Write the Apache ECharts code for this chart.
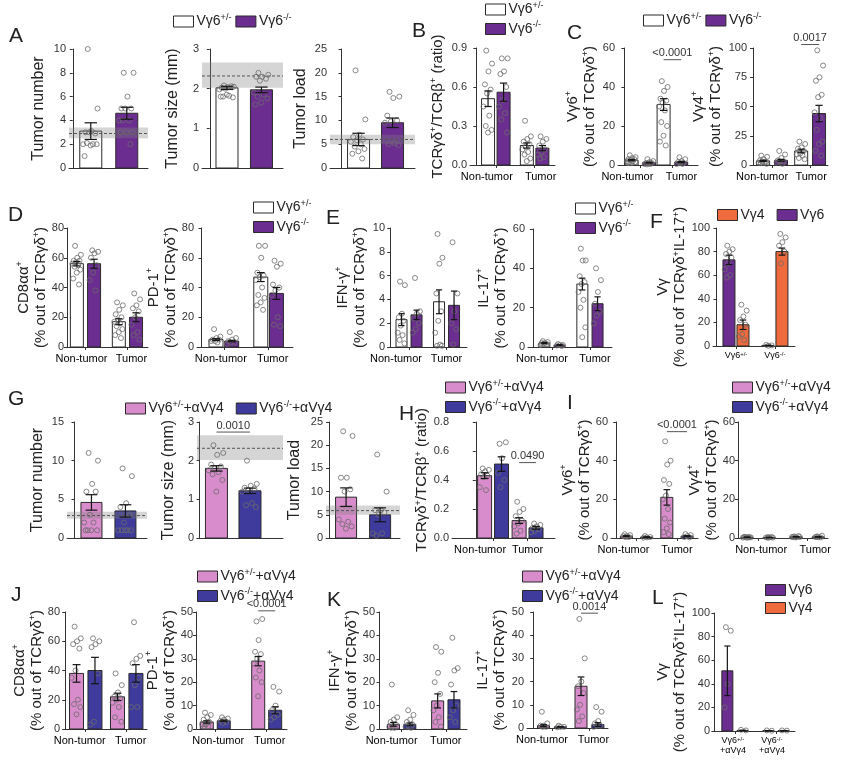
<!DOCTYPE html>
<html><head><meta charset="utf-8">
<script src="https://cdn.jsdelivr.net/npm/echarts@6/dist/echarts.min.js"></script>
<style>html,body{margin:0;padding:0;background:#fff}#c{width:843px;height:763px}</style>
</head><body><div id="c"></div>
<script>
// ---------------- DATA ----------------
const NT_T = ['Non-tumor', 'Tumor'];
const F_cats = ['{c|Vγ6}{cs|+/-}', '{c|Vγ6}{cs|-/-}'];
const L_cats = ['{c|Vγ6}{cs|+/-}\n{c|+αVγ4}', '{c|Vγ6}{cs|-/-}\n{c|+αVγ4}'];

const A1_y = [0, 10, 2];
const A1_means = [3.1, 4.6];
const A1_sems = [0.7, 0.5];
const A1_pts = [[10, 5, 3.1, 3, 2.9, 3, 2, 2, 2.1, 2, 1.9, 1], [8, 8, 6, 5, 5, 5, 4, 4, 4, 3, 3, 3, 2]];
const A1_band = [2.5, 3.4, 2.9];

const A2_y = [0, 3, 1];
const A2_means = [2.02, 1.97];
const A2_sems = [0.04, 0.07];
const A2_pts = [[2.08, 2.05, 2.04, 2.02, 2.06, 2.0, 1.98, 1.82, 1.8, 1.78, 1.85, 1.8], [2.4, 2.35, 2.3, 2.3, 2.25, 2.2, 1.9, 1.85, 1.8, 1.75, 1.65, 1.6]];
const A2_band = [2.02, 2.66, 2.32];

const A3_y = [0, 25, 5];
const A3_means = [6.0, 9.5];
const A3_sems = [1.3, 1.0];
const A3_pts = [[20.5, 10.2, 7, 6.5, 6, 5.8, 5.5, 5, 4.5, 4, 3.5, 3, 2], [16, 15, 14.7, 11, 10, 9.8, 9.5, 5.2, 5, 4.8]];
const A3_band = [5, 7, 6];

const B_y = [0, 0.9, 0.3];
const B_means = [0.51, 0.56, 0.15, 0.13];
const B_sems = [0.06, 0.07, 0.02, 0.02];
const B_pts = [[0.88, 0.78, 0.72, 0.62, 0.58, 0.55, 0.45, 0.38, 0.3, 0.27, 0.25], [0.82, 0.82, 0.72, 0.7, 0.6, 0.5, 0.45, 0.4, 0.35, 0.25], [0.34, 0.22, 0.2, 0.18, 0.16, 0.14, 0.12, 0.1, 0.08, 0.05, 0.03], [0.22, 0.2, 0.18, 0.15, 0.12, 0.1, 0.08, 0.06, 0.05]];

const C1_y = [0, 60, 20];
const C1_means = [2.5, 1.2, 31, 1.5];
const C1_sems = [0.3, 0.2, 3, 0.3];
const C1_pts = [[5, 4, 3.5, 3, 3, 2.5, 2, 2, 1.5, 1.5, 1, 1], [3, 2, 1.5, 1, 1, 0.8, 0.5, 0.5, 0.3], [43, 40, 38, 34, 33, 32, 30, 28, 22, 20, 15, 12, 10], [4, 3, 2, 1.5, 1, 1, 0.5, 0.5]];
const C1_pval = [2, 3, 54, '<0.0001'];

const C2_y = [0, 100, 25];
const C2_means = [3.5, 4, 12, 44];
const C2_sems = [0.5, 0.8, 1.5, 7];
const C2_pts = [[8, 7, 5, 4, 3, 3, 2, 2, 1.5, 1], [12, 9, 6, 4, 3, 3, 2, 1], [20, 18, 15, 14, 12, 10, 9, 8, 6, 5], [98, 85, 75, 72, 60, 58, 45, 40, 30, 20, 18, 12, 8]];
const C2_pval = [2, 3, 103, '0.0017'];

const D1_y = [0, 80, 20];
const D1_means = [56, 56, 17, 20];
const D1_sems = [1.5, 3, 2, 3];
const D1_pts = [[68, 62, 60, 58, 58, 57, 56, 55, 54, 52, 50, 46, 42], [65, 64, 63, 60, 55, 50, 45, 38], [30, 28, 25, 22, 20, 18, 17, 16, 14, 12, 10, 8, 6], [36, 32, 28, 26, 24, 20, 15, 10, 8, 5]];

const D2_y = [0, 80, 20];
const D2_means = [5, 4, 47, 36];
const D2_sems = [0.6, 0.5, 3, 4];
const D2_pts = [[12, 7, 6, 5, 5, 4, 4, 3], [10, 6, 5, 4, 3, 3, 2], [68, 68, 60, 50, 48, 47, 45, 40, 35, 33, 30, 28, 25], [58, 56, 54, 42, 40, 38, 35, 20, 15, 14]];

const E1_y = [0, 10, 2];
const E1_means = [2.3, 2.7, 3.8, 3.5];
const E1_sems = [0.5, 0.4, 1.0, 1.2];
const E1_pts = [[5.5, 5.2, 2.8, 2.5, 2.2, 1.8, 1.2, 1.0, 0.6, 0.3], [5.8, 3.0, 2.8, 2.4, 2.0, 1.5, 1.2], [9.5, 7.5, 7.0, 4.5, 3.0, 2.2, 1.2, 0.2, 0.1, 0.1], [8.8, 4.5, 3.0, 2.0, 1.5, 0.2]];

const E2_y = [0, 60, 20];
const E2_means = [2, 1, 32, 22];
const E2_sems = [0.3, 0.2, 3, 3.5];
const E2_pts = [[3, 2.5, 2, 2, 1.5, 1.5, 1], [1.5, 1, 1, 0.8, 0.5], [50, 44, 44, 36, 33, 32, 28, 24, 20, 10, 5], [40, 34, 28, 22, 18, 16, 12]];

const F_y = [0, 100, 20];
const F_means = [73, 18, 0.5, 80];
const F_sems = [4, 4, 0.2, 3];
const F_pts = [[85, 82, 80, 78, 75, 70, 65, 60, 58], [35, 30, 25, 22, 18, 10, 8, 5], [1, 0.5, 0.2], [95, 92, 88, 85, 80, 70]];

const G1_y = [0, 15, 5];
const G1_means = [4.6, 3.5];
const G1_sems = [1.0, 0.8];
const G1_pts = [[11, 10, 7, 6, 6, 3, 2, 2, 1, 1, 1, 1], [9, 8, 4.5, 4, 3, 2, 1, 1, 1, 1, 1]];
const G1_band = [2.5, 3.4, 2.9];

const G2_y = [0, 3, 1];
const G2_means = [1.8, 1.22];
const G2_sems = [0.07, 0.07];
const G2_pts = [[2.4, 2.2, 2.15, 1.9, 1.85, 1.8, 1.75, 1.7, 1.65, 1.5, 1.2], [2.0, 1.4, 1.35, 1.3, 1.28, 1.25, 1.2, 0.9, 0.85, 0.8]];
const G2_band = [2.02, 2.66, 2.32];
const G2_pval = [0, 1, 2.74, '0.0010'];

const G3_y = [0, 25, 5];
const G3_means = [8.8, 5];
const G3_sems = [2, 1.5];
const G3_pts = [[23, 22, 13, 13, 10.5, 10, 4, 3.5, 3, 2.5, 2], [18, 10, 6, 6, 5.5, 5, 1, 1, 0.5]];
const G3_band = [5, 7, 5.9];

const H_y = [0, 0.8, 0.2];
const H_means = [0.43, 0.51, 0.12, 0.07];
const H_sems = [0.02, 0.05, 0.02, 0.01];
const H_pts = [[0.48, 0.47, 0.46, 0.44, 0.43, 0.42, 0.35, 0.33], [0.65, 0.66, 0.55, 0.45, 0.4, 0.35], [0.25, 0.2, 0.18, 0.15, 0.12, 0.1, 0.08, 0.05, 0.03], [0.1, 0.09, 0.08, 0.07, 0.06, 0.05, 0.04]];
const H_pval = [2, 3, 0.52, '0.0490'];

const I1_y = [0, 60, 20];
const I1_means = [1, 0.5, 21, 1];
const I1_sems = [0.2, 0.1, 4, 0.2];
const I1_pts = [[2, 1.5, 1, 1, 0.5, 0.5], [1, 0.5, 0.3, 0.2], [50, 40, 38, 30, 28, 22, 20, 15, 10, 8, 5, 3, 2], [2, 1.5, 1, 0.5, 0.3]];
const I1_pval = [2, 3, 55, '<0.0001'];

const I2_y = [0, 60, 20];
const I2_means = [0.4, 0.3, 0.6, 0.6];
const I2_sems = [0.1, 0.05, 0.1, 0.15];
const I2_pts = [[0.5, 0.3, 0.2, 0.6, 0.4, 0.3, 0.2, 0.5], [0.3, 0.2, 0.4, 0.3, 0.5, 0.2], [0.8, 0.5, 0.4, 0.6, 1.0, 0.3, 0.5], [0.6, 1.2, 0.4, 0.5, 0.3, 0.8]];

const J1_y = [0, 80, 20];
const J1_means = [38, 40, 22, 38];
const J1_sems = [6, 9, 2.5, 6];
const J1_pts = [[70, 62, 60, 58, 55, 40, 35, 20, 17, 15, 10], [62, 60, 58, 56, 38, 5, 3], [38, 30, 25, 22, 21, 20, 18, 15, 8, 5], [73, 50, 48, 45, 35, 30, 15, 15]];

const J2_y = [0, 50, 10];
const J2_means = [3, 3.5, 29, 8];
const J2_sems = [0.5, 0.3, 2, 1.5];
const J2_pts = [[7, 6, 5, 4, 3, 2, 2, 1, 1], [5, 4.5, 4, 3.5, 3, 2.5], [46, 47, 38, 33, 32, 30, 28, 25, 22, 20, 14], [18, 16, 10, 8, 6, 5, 4]];
const J2_pval = [2, 3, 50.5, '<0.0001'];

const K1_y = [0, 50, 10];
const K1_means = [2, 2, 12, 12.5];
const K1_sems = [0.8, 0.6, 3, 3.5];
const K1_pts = [[19, 5, 4, 3, 2, 1, 1, 0.5, 0.5], [8, 6, 4, 3, 2, 1, 1, 0.5], [35, 33, 24, 20, 15, 10, 8, 5, 3, 1], [39, 26, 25, 19, 10, 8, 5, 3]];

const K2_y = [0, 50, 10];
const K2_means = [1, 0.5, 18, 1.5];
const K2_sems = [0.4, 0.1, 4, 0.8];
const K2_pts = [[7, 2, 1, 1, 0.5, 0.5], [1, 0.5, 0.5, 0.3], [47, 30, 20, 18, 15, 10, 8, 5, 3], [9, 7, 3, 2, 1, 1, 0.5]];
const K2_pval = [2, 3, 49.5, '0.0014'];

const L_y = [0, 100, 20];
const L_means = [51, 0.5, 0.3, 0.3];
const L_sems = [21, 0.2, 0.1, 0.1];
const L_pts = [[88, 85, 40, 20], [1, 0.5], [0.5, 0.2], [0.5, 0.3]];

// ---------------- STYLE / LAYOUT ----------------
const FONT = "'Liberation Sans', Arial, Helvetica, sans-serif";
const COL = {het: '#ffffff', ko: '#6b2d90', hetA: '#d98ccb', koA: '#3e3b9c', g4: '#ef6a3c', g6: '#6b2d90'};
const LEG = {
  het: '{t|Vγ6}{s|+/-}', ko: '{t|Vγ6}{s|-/-}',
  hetA: '{t|Vγ6}{s|+/-}{t|+αVγ4}', koA: '{t|Vγ6}{s|-/-}{t|+αVγ4}',
  g4: '{t|Vγ4}', g6: '{t|Vγ6}'
};
const TCR = '{t|(% out of TCRγδ}{s|+}{t|)}';
const SINGLE = (a, b) => [[0, a], [1, b]];
const PAIR = (a, b) => [[0, a], [0, b], [1, a], [1, b]];

const PANELS = [
  {g: [69, 49, 79, 119], x: [-0.21, 4.18, 0, 22], y: A1_y, m: A1_means, s: A1_sems, p: A1_pts, band: A1_band, bars: SINGLE('het', 'ko'), name: '{n|Tumor number}', gap: 21},
  {g: [202, 49, 81, 119], x: [-0.45, 4.25, 0, 22], y: A2_y, m: A2_means, s: A2_sems, p: A2_pts, band: A2_band, bars: SINGLE('het', 'ko'), name: '{n|Tumor size (mm)}', gap: 20},
  {g: [330, 49, 85, 119], x: [-0.68, 4.32, 0, 22], y: A3_y, m: A3_means, s: A3_sems, p: A3_pts, band: A3_band, bars: SINGLE('het', 'ko'), name: '{n|Tumor load}', gap: 20},
  {g: [470, 48, 85, 117], x: [-0.33, 4.05, 0.4, 13], y: B_y, m: B_means, s: B_sems, p: B_pts, bars: PAIR('het', 'ko'), cats: NT_T, lab: [-9, 6], name: '{t|TCRγδ}{s|+}{t|/TCRβ}{s|+}{t| (ratio)}', gap: 24, dec: 1},
  {g: [618, 48, 80, 117], x: [-0.4, 4.6, 0.55, 13], y: C1_y, m: C1_means, s: C1_sems, p: C1_pts, bars: PAIR('het', 'ko'), cats: NT_T, lab: [-13, 9], pval: C1_pval, name: '{t|Vγ6}{s|+}\n' + TCR, gap: 20},
  {g: [750, 48, 78, 117], x: [-0.16, 3.94, 0.47, 13], y: C2_y, m: C2_means, s: C2_sems, p: C2_pts, bars: PAIR('het', 'ko'), cats: NT_T, lab: [-10, 1], pval: C2_pval, name: '{t|Vγ4}{s|+}\n' + TCR, gap: 26},
  {g: [67, 228, 81, 119], x: [0.12, 3.98, 0.41, 13], y: D1_y, m: D1_means, s: D1_sems, p: D1_pts, bars: PAIR('het', 'ko'), cats: NT_T, lab: [-4, 4], name: '{t|CD8αα}{s|+}\n' + TCR, gap: 18},
  {g: [197, 228, 96, 119], x: [-0.2, 4.09, 0.35, 14], y: D2_y, m: D2_means, s: D2_sems, p: D2_pts, bars: PAIR('het', 'ko'), cats: NT_T, lab: [-3, 4], name: '{t|PD-1}{s|+}\n' + TCR, gap: 16},
  {g: [388, 228, 79, 119], x: [-0.12, 4.09, 0.4, 11], y: E1_y, m: E1_means, s: E1_sems, p: E1_pts, bars: PAIR('het', 'ko'), cats: NT_T, lab: [-13, 0], name: '{t|IFN-γ}{s|+}\n' + TCR, gap: 20},
  {g: [528, 229, 84, 118], x: [-0.26, 4.16, 0.4, 11], y: E2_y, m: E2_means, s: E2_sems, p: E2_pts, bars: PAIR('het', 'ko'), cats: NT_T, lab: [-10, 5], name: '{t|IL-17}{s|+}\n' + TCR, gap: 19},
  {g: [713, 228, 82, 118], x: [-0.18, 4.03, 0.36, 12], y: F_y, m: F_means, s: F_sems, p: F_pts, bars: PAIR('g6', 'g4'), cats: F_cats, lab: [0, 0], name: '{t|Vγ}\n{t|(% out of TCRγδ}{s|+}{t|IL-17}{s|+}{t|)}', gap: 23},
  {g: [67, 422, 80, 116], x: [-0.44, 4.27, 0, 21], y: G1_y, m: G1_means, s: G1_sems, p: G1_pts, band: G1_band, bars: SINGLE('hetA', 'koA'), name: '{n|Tumor number}', gap: 20},
  {g: [197, 422, 86, 116], x: [-0.16, 4.97, 0, 22], y: G2_y, m: G2_means, s: G2_sems, p: G2_pts, band: G2_band, bars: SINGLE('hetA', 'koA'), pval: G2_pval, name: '{n|Tumor size (mm)}', gap: 19},
  {g: [326, 422, 74, 116], x: [-0.18, 4.17, 0, 21], y: G3_y, m: G3_means, s: G3_sems, p: G3_pts, band: G3_band, bars: SINGLE('hetA', 'koA'), name: '{n|Tumor load}', gap: 22},
  {g: [452, 422, 103, 116], x: [-1.38, 4.59, 0.49, 14], y: H_y, m: H_means, s: H_sems, p: H_pts, bars: PAIR('hetA', 'koA'), cats: NT_T, lab: [-13, 0], pval: H_pval, name: '{t|TCRγδ}{s|+}{t|/TCRβ}{s|+}{t| (ratio)}', gap: 21, dec: 1},
  {g: [611, 422, 87, 116], x: [-0.26, 4.04, 0.5, 12], y: I1_y, m: I1_means, s: I1_sems, p: I1_pts, bars: PAIR('hetA', 'koA'), cats: NT_T, lab: [-13, 0], pval: I1_pval, name: '{t|Vγ6}{s|+}\n' + TCR, gap: 18},
  {g: [738, 422, 90, 116], x: [0.18, 3.85, 0.45, 12], y: I2_y, m: I2_means, s: I2_sems, p: I2_pts, bars: PAIR('hetA', 'koA'), cats: NT_T, lab: [3, 8], name: '{t|Vγ4}{s|+}\n' + TCR, gap: 17},
  {g: [63, 612, 84, 117], x: [-0.11, 3.99, 0.45, 14], y: J1_y, m: J1_means, s: J1_sems, p: J1_pts, bars: PAIR('hetA', 'koA'), cats: NT_T, lab: [-6, 4], name: '{t|CD8αα}{s|+}\n' + TCR, gap: 18},
  {g: [196, 612, 91, 117], x: [0.25, 3.79, 0.33, 13], y: J2_y, m: J2_means, s: J2_sems, p: J2_pts, bars: PAIR('hetA', 'koA'), cats: NT_T, lab: [3, 3], pval: J2_pval, name: '{t|PD-1}{s|+}\n' + TCR, gap: 16},
  {g: [378, 612, 89, 117], x: [-0.07, 3.96, 0.37, 12], y: K1_y, m: K1_means, s: K1_sems, p: K1_pts, bars: PAIR('hetA', 'koA'), cats: NT_T, lab: [-10, 0], name: '{t|IFN-γ}{s|+}\n' + TCR, gap: 16},
  {g: [527, 612, 81, 116], x: [-0.33, 3.99, 0.45, 12], y: K2_y, m: K2_means, s: K2_sems, p: K2_pts, bars: PAIR('hetA', 'koA'), cats: NT_T, lab: [-10, 4], pval: K2_pval, name: '{t|IL-17}{s|+}\n' + TCR, gap: 19},
  {g: [713, 613, 82, 118], x: [-0.07, 3.93, 0.37, 11], y: L_y, m: L_means, s: L_sems, p: L_pts, bars: PAIR('g6', 'g4'), cats: L_cats, lab: [-2, -4], name: '{t|Vγ}\n{t|(% out of TCRγδ}{s|+}{t|IL-17}{s|+}{t|)}', gap: 23}
];

const LEGENDS = [
  {left: 173, top: 13, orient: 'horizontal', keys: ['het', 'ko']},
  {left: 485, top: 1, orient: 'vertical', keys: ['het', 'ko']},
  {left: 643, top: 12, orient: 'horizontal', keys: ['het', 'ko']},
  {left: 253, top: 199, orient: 'vertical', keys: ['het', 'ko']},
  {left: 575, top: 200, orient: 'vertical', keys: ['het', 'ko']},
  {left: 717, top: 208, orient: 'horizontal', keys: ['g4', 'g6'], gap: 12},
  {left: 125, top: 400, orient: 'horizontal', keys: ['hetA', 'koA'], gap: 12},
  {left: 445, top: 379, orient: 'vertical', keys: ['hetA', 'koA']},
  {left: 732, top: 379, orient: 'vertical', keys: ['hetA', 'koA']},
  {left: 197, top: 568, orient: 'vertical', keys: ['hetA', 'koA']},
  {left: 522, top: 568, orient: 'vertical', keys: ['hetA', 'koA']},
  {left: 765, top: 583, orient: 'vertical', keys: ['g6', 'g4']}
];

const LETTERS = [['A', 9, 26], ['B', 412, 21], ['C', 567, 23], ['D', 8, 205], ['E', 326, 208], ['F', 650, 212],
  ['G', 8, 389], ['H', 399, 404], ['I', 567, 393], ['J', 11, 585], ['K', 327, 590], ['L', 652, 588]];

// ---------------- BUILD ----------------
const RICH_LEG = {
  t: {fontSize: 14, fontFamily: FONT, color: '#222', lineHeight: 17},
  s: {fontSize: 9, fontFamily: FONT, color: '#222', verticalAlign: 'top', lineHeight: 11}
};
const RICH_NAME = {
  t: {fontSize: 15, fontFamily: FONT, color: '#222', lineHeight: 17},
  n: {fontSize: 16, fontFamily: FONT, color: '#222', lineHeight: 18},
  s: {fontSize: 9, fontFamily: FONT, color: '#222', verticalAlign: 'top', lineHeight: 11}
};
const RICH_C = {
  x: {fontSize: 11, fontFamily: FONT, color: '#333', lineHeight: 13},
  c: {fontSize: 9, fontFamily: FONT, color: '#333', lineHeight: 10},
  cs: {fontSize: 6, fontFamily: FONT, color: '#333', verticalAlign: 'top', lineHeight: 7}
};

const grids = [], xAxes = [], yAxes = [], series = [];

function barRender(bw) {
  return function (params, api) {
    const x = api.value(0), y = api.value(1);
    const p0 = api.coord([x, 0]), p1 = api.coord([x, y]);
    return {type: 'rect', shape: {x: p0[0] - bw / 2, y: p1[1], width: bw, height: Math.max(0.5, p0[1] - p1[1])},
      style: {fill: api.visual('color'), stroke: '#2a2a2a', lineWidth: 1}};
  };
}
function errRender(cap) {
  return function (params, api) {
    const x = api.value(0), m = api.value(1), s = api.value(2);
    const a = api.coord([x, m + s]), b = api.coord([x, Math.max(0, m - s)]);
    const st = {stroke: '#151515', lineWidth: 1.2};
    return {type: 'group', children: [
      {type: 'line', shape: {x1: a[0], y1: a[1], x2: b[0], y2: b[1]}, style: st},
      {type: 'line', shape: {x1: a[0] - cap, y1: a[1], x2: a[0] + cap, y2: a[1]}, style: st},
      {type: 'line', shape: {x1: b[0] - cap, y1: b[1], x2: b[0] + cap, y2: b[1]}, style: st}
    ]};
  };
}
function bandRender(params, api) {
  const cs = params.coordSys;
  const lo = api.coord([0, api.value(0)])[1], hi = api.coord([0, api.value(1)])[1], mid = api.coord([0, api.value(2)])[1];
  return {type: 'group', children: [
    {type: 'rect', shape: {x: cs.x, y: hi, width: cs.width, height: lo - hi}, style: {fill: 'rgba(128,128,128,0.33)'}},
    {type: 'line', shape: {x1: cs.x, y1: mid, x2: cs.x + cs.width, y2: mid}, style: {stroke: '#555', lineWidth: 1, lineDash: [3, 2]}}
  ]};
}
function annRender(text) {
  return function (params, api) {
    const a = api.coord([api.value(0), api.value(2)]), b = api.coord([api.value(1), api.value(2)]);
    return {type: 'group', children: [
      {type: 'line', shape: {x1: a[0], y1: a[1], x2: b[0], y2: b[1]}, style: {stroke: '#555', lineWidth: 1}},
      {type: 'text', style: {text: text, x: (a[0] + b[0]) / 2, y: a[1] - 1, align: 'center', verticalAlign: 'bottom', fontSize: 11, fontFamily: FONT, fill: '#333'}}
    ]};
  };
}
function catRender(labels, shifts) {
  return function (params, api) {
    const p = api.coord([api.value(0), api.value(1)]);
    const raw = labels[params.dataIndex];
    const txt = raw.indexOf('{') === 0 ? raw : '{x|' + raw + '}';
    return {type: 'text', style: {text: txt, rich: RICH_C, x: p[0] + (shifts ? shifts[params.dataIndex] : 0), y: p[1] + 5, align: 'center', verticalAlign: 'top'}};
  };
}

PANELS.forEach((P, i) => {
  const [xmin, xmax, d, bw] = P.x;
  const [l, t, w, h] = P.g;
  const u = w / (xmax - xmin);
  grids.push({left: l, top: t, width: w, height: h});
  const seen = {};
  const xs = P.bars.map(([c, k]) => {
    const idx = seen[c] || 0; seen[c] = idx + 1;
    const center = 1 + 2 * c;
    if (d === 0) return center;
    return center + (idx === 0 ? -d : d);
  });
  const centers = [1, 3];
  xAxes.push({
    type: 'value', gridIndex: i, min: xmin, max: xmax,
    axisLine: {show: true, onZero: false, lineStyle: {color: '#333', width: 1}},
    axisTick: {show: !!P.cats, customValues: centers, length: 3, lineStyle: {color: '#333'}},
    axisLabel: {show: false},
    splitLine: {show: false}
  });
  const [ymin, ymax, yint] = P.y;
  yAxes.push({
    type: 'value', gridIndex: i, min: ymin, max: ymax, interval: yint,
    axisLine: {show: true, lineStyle: {color: '#333', width: 1}},
    axisTick: {show: true, length: 3, lineStyle: {color: '#333'}},
    axisLabel: {fontSize: 11, fontFamily: FONT, color: '#333', margin: 3,
      formatter: v => P.dec ? v.toFixed(P.dec) : String(Math.round(v * 100) / 100)},
    splitLine: {show: false},
    name: P.name, nameLocation: 'middle', nameRotate: 90, nameGap: P.gap,
    nameTextStyle: {rich: RICH_NAME, align: 'center'}
  });
  const keys = [...new Set(P.bars.map(b => b[1]))];
  keys.forEach(k => {
    const data = [];
    P.bars.forEach((b, j) => { if (b[1] === k) data.push([xs[j], P.m[j]]); });
    series.push({type: 'custom', name: k, xAxisIndex: i, yAxisIndex: i, z: 2, silent: true, clip: false,
      itemStyle: {color: COL[k]}, renderItem: barRender(bw), data: data});
  });
  if (P.band) {
    series.push({type: 'custom', name: '_band', xAxisIndex: i, yAxisIndex: i, z: 3, silent: true, clip: false,
      renderItem: bandRender, data: [P.band]});
  }
  series.push({type: 'custom', name: '_err', xAxisIndex: i, yAxisIndex: i, z: 6, silent: true, clip: false,
    renderItem: errRender(Math.max(3, bw * 0.28)), data: P.bars.map((b, j) => [xs[j], P.m[j], P.s[j]])});
  const half = (bw / 2) / u;
  const pts = [];
  P.p.forEach((arr, j) => {
    arr.forEach((v, q) => {
      const off = (((q * 0.618034 + 0.31) % 1) - 0.5) * 2 * half * 0.72;
      pts.push([xs[j] + off, v]);
    });
  });
  series.push({type: 'scatter', name: '_pts', xAxisIndex: i, yAxisIndex: i, z: 5, silent: true, symbol: 'circle', symbolSize: 5,
    itemStyle: {color: 'rgba(255,255,255,0)', borderColor: '#6c6c6c', borderWidth: 1}, data: pts});
  if (P.pval) {
    const [b1, b2, yv, txt] = P.pval;
    series.push({type: 'custom', name: '_ann', xAxisIndex: i, yAxisIndex: i, z: 7, silent: true, clip: false,
      renderItem: annRender(txt), data: [[xs[b1], xs[b2], yv]]});
  }
  if (P.cats) {
    series.push({type: 'custom', name: '_cat', xAxisIndex: i, yAxisIndex: i, z: 7, silent: true, clip: false,
      renderItem: catRender(P.cats, P.lab), data: centers.map(c => [c, ymin])});
  }
});

const legends = LEGENDS.map(L => ({
  left: L.left, top: L.top, orient: L.orient, padding: 0, itemWidth: 20, itemHeight: 11,
  itemGap: L.gap !== undefined ? L.gap : (L.orient === 'vertical' ? 4 : 4), icon: 'rect', selectedMode: false,
  data: L.keys.map(k => ({name: k, itemStyle: {color: COL[k], borderColor: '#2a2a2a', borderWidth: 1}})),
  formatter: n => LEG[n],
  textStyle: {rich: RICH_LEG, padding: [0, 0, 0, -2]}
}));

const graphic = LETTERS.map(([txt, x, y]) => ({
  type: 'text', left: x, top: y, silent: true,
  style: {text: txt, fontSize: 21, fontFamily: FONT, fill: '#222'}
}));

const chart = echarts.init(document.getElementById('c'), null, {renderer: 'canvas'});
chart.setOption({
  animation: false, backgroundColor: '#fff',
  grid: grids, xAxis: xAxes, yAxis: yAxes, series: series, legend: legends, graphic: graphic
});
</script>
</body></html>
